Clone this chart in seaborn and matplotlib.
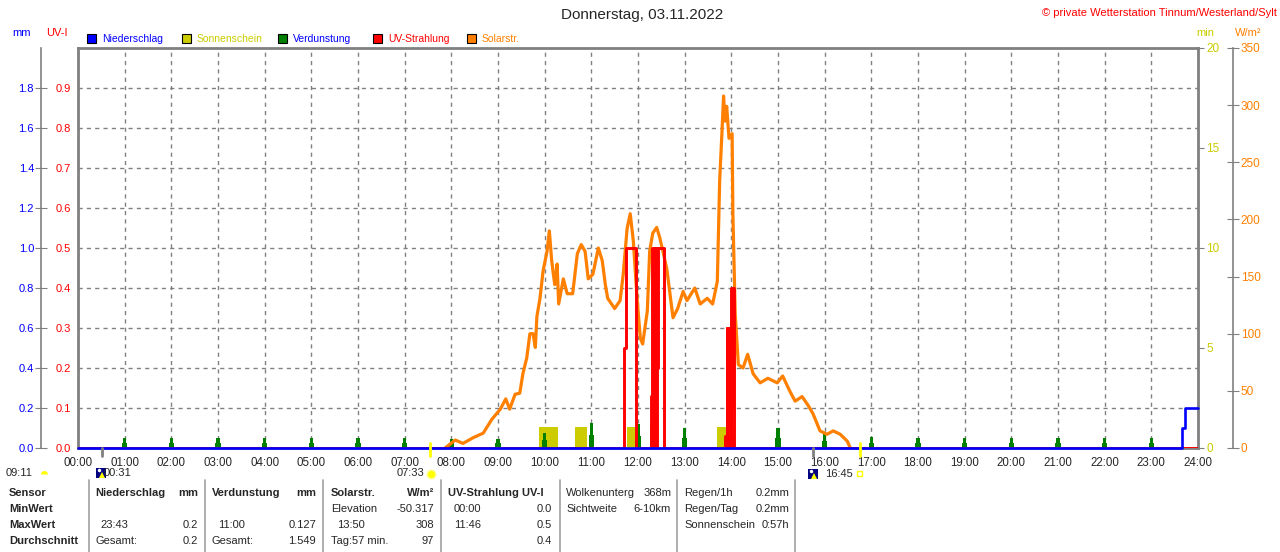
import numpy as np
import matplotlib
matplotlib.use('Agg')
import matplotlib.pyplot as plt
import matplotlib.transforms as mtransforms
from matplotlib.patches import Rectangle
from matplotlib.lines import Line2D
import seaborn as sns

# ---- data ----
title = 'Donnerstag, 03.11.2022'

# solar radiation W/m2 (minutes of the day)
solar_min = [472, 485, 495, 508, 521, 532, 543, 550, 555, 562, 568, 572, 577, 581, 585, 588,
             590, 594, 598, 603, 606, 609, 611, 613, 616, 618, 624, 629, 636, 642, 647, 652,
             656, 662, 669, 674, 678, 681, 690, 697, 701, 706, 710, 714, 719, 723, 726, 732,
             735, 739, 744, 748, 757, 765, 771, 778, 783, 793, 800, 809, 816, 822, 825, 828,
             830, 832, 834, 837, 841, 842, 845, 849, 855, 861, 868, 877, 887, 899, 906, 915,
             922, 931, 939, 945, 954, 963, 971, 980, 989, 993]
solar_val = [0, 7, 4, 9, 13, 25, 34, 43, 34, 47, 48, 65, 79, 100, 100, 88,
             115, 131, 155, 172, 190, 164, 153, 143, 161, 126, 148, 135, 135, 170, 178, 172,
             148, 152, 175, 164, 143, 131, 122, 129, 152, 192, 205, 181, 129, 96, 91, 120,
             172, 188, 193, 184, 157, 114, 122, 137, 129, 140, 126, 131, 126, 146, 234, 277,
             308, 286, 299, 271, 275, 205, 117, 73, 70, 82, 65, 57, 61, 57, 63, 50,
             41, 45, 37, 30, 15, 12, 15, 12, 6, 0]

# UV index (step values, minutes)
uv_min = [0, 702, 704, 717, 718, 737, 738, 739, 740, 741, 742, 743, 744, 745, 746, 753, 754,
          832, 834, 835, 836, 837, 838, 839, 840, 841, 842, 843, 1440]
uv_val = [0.0, 0.25, 0.5, 0.3, 0.0, 0.13, 0.5, 0.0, 0.5, 0.1, 0.5, 0.0, 0.5, 0.2, 0.5, 0.2, 0.0,
          0.03, 0.3, 0.0, 0.3, 0.05, 0.3, 0.0, 0.4, 0.1, 0.4, 0.0, 0.0]

# sunshine minutes (bars: start, end in minutes)
sun_start = [593, 639, 706, 735, 822]
sun_end = [617, 654, 717, 747, 845]
sun_val = [1.05, 1.05, 1.05, 1.05, 1.05]

# evaporation mm (hourly)
evap_hour = [1, 2, 3, 4, 5, 6, 7, 8, 9, 10, 11, 12, 13, 14, 15, 16, 17, 18, 19, 20, 21, 22, 23]
evap_val = [0.05, 0.05, 0.05, 0.05, 0.05, 0.05, 0.05, 0.047, 0.047, 0.077, 0.127, 0.12,
            0.1, 0.12, 0.1, 0.075, 0.055, 0.05, 0.05, 0.05, 0.05, 0.05, 0.05]

# precipitation mm (step values, minutes)
rain_min = [0, 1420, 1423, 1440]
rain_val = [0.0, 0.1, 0.2, 0.2]

hour_labels = ['%02d:00' % h for h in range(25)]
uv_ticks = [0.0, 0.1, 0.2, 0.3, 0.4, 0.5, 0.6, 0.7, 0.8, 0.9]
mm_ticks = [0.0, 0.2, 0.4, 0.6, 0.8, 1.0, 1.2, 1.4, 1.6, 1.8]
min_ticks = [0, 5, 10, 15, 20]
w_ticks = [0, 50, 100, 150, 200, 250, 300, 350]

sunrise, sunset = '07:33', '16:45'
moon_marks = ['00:31', '15:45']

table = [
    # (x, y, text, ha, bold)
    (9, 493, 'Sensor', 'left', True), (9, 509, 'MinWert', 'left', True),
    (9, 525, 'MaxWert', 'left', True), (9, 541, 'Durchschnitt', 'left', True),
    (95, 493, 'Niederschlag', 'left', True), (198, 493, 'mm', 'right', True),
    (100, 525, '23:43', 'left', False), (198, 525, '0.2', 'right', False),
    (95, 541, 'Gesamt:', 'left', False), (198, 541, '0.2', 'right', False),
    (212, 493, 'Verdunstung', 'left', True), (316, 493, 'mm', 'right', True),
    (218, 525, '11:00', 'left', False), (316, 525, '0.127', 'right', False),
    (212, 541, 'Gesamt:', 'left', False), (316, 541, '1.549', 'right', False),
    (331, 493, 'Solarstr.', 'left', True), (434, 493, 'W/m²', 'right', True),
    (331, 509, 'Elevation', 'left', False), (434, 509, '-50.317', 'right', False),
    (337, 525, '13:50', 'left', False), (434, 525, '308', 'right', False),
    (331, 541, 'Tag:57 min.', 'left', False), (434, 541, '97', 'right', False),
    (448, 493, 'UV-Strahlung UV-I', 'left', True),
    (454, 509, '00:00', 'left', False), (552, 509, '0.0', 'right', False),
    (454, 525, '11:46', 'left', False), (552, 525, '0.5', 'right', False),
    (552, 541, '0.4', 'right', False),
    (566, 493, 'Wolkenunterg', 'left', False), (672, 493, '368m', 'right', False),
    (566, 509, 'Sichtweite', 'left', False), (671, 509, '6-10km', 'right', False),
    (684, 493, 'Regen/1h', 'left', False), (789, 493, '0.2mm', 'right', False),
    (684, 509, 'Regen/Tag', 'left', False), (789, 509, '0.2mm', 'right', False),
    (684, 525, 'Sonnenschein', 'left', False), (789, 525, '0:57h', 'right', False),
]
table_seps = [89, 205, 323, 441, 560, 677, 795]

# ---- colours ----
c_rain = '#0000FF'
c_sun = '#CCCC00'
c_evap = '#008000'
c_uv = '#FF0000'
c_solar = '#FF8000'
c_grey = '#808080'

sns.set_style('white')
plt.rcParams['font.family'] = ['Liberation Sans', 'DejaVu Sans']
plt.rcParams['font.size'] = 8

W, H = 1280, 552
PT = 0.72  # points per pixel at dpi 100


def fx(x):
    return x / W


def fy(y):
    return 1 - y / H


def tohours(t):
    h, m = t.split(':')
    return int(h) + int(m) / 60


fig = plt.figure(figsize=(12.8, 5.52), dpi=100)
ax = fig.add_axes([fx(78), 104 / H, 1120 / W, 400 / H])
ax.set_zorder(1)
ax.set_xlim(0, 24)
ax.set_ylim(0, 1.0)
ax.set_xticks(range(25))
ax.set_xticklabels(hour_labels)
ax.set_yticks(uv_ticks)
ax.set_yticklabels(['%.1f' % v for v in uv_ticks])
ax.tick_params(axis='y', length=0, pad=5, labelcolor=c_uv, labelsize=8)
ax.tick_params(axis='x', length=3, color=c_grey, pad=3.5, labelsize=8.3)
ax.grid(True, color=c_grey, linestyle=(0, (3, 3)), linewidth=1)
for s in ['left', 'top', 'right', 'bottom']:
    ax.spines[s].set_color(c_grey)
    ax.spines[s].set_linewidth(2)

# sunshine (min)
ax_min = ax.twinx()
ax_min.set_zorder(2)
ax_min.set_ylim(0, 20)
ax_min.bar(np.array(sun_start) / 60, sun_val, width=(np.array(sun_end) - np.array(sun_start)) / 60,
           align='edge', color=c_sun, linewidth=0)
ax_min.set_yticks(min_ticks)
ax_min.tick_params(axis='y', length=4, color=c_grey, pad=2, labelcolor=c_sun, labelsize=8.5)

# evaporation (mm axis, left, outward)
ax_mm = ax.twinx()
ax_mm.set_zorder(3)
ax_mm.set_ylim(0, 2.0)
ax_mm.bar(evap_hour, np.array(evap_val) * 0.5, width=0.11, color=c_evap, linewidth=0)
ax_mm.bar(evap_hour, evap_val, width=0.065, color=c_evap, linewidth=0)
ax_mm.yaxis.set_ticks_position('left')
ax_mm.yaxis.set_label_position('left')
ax_mm.spines['left'].set_visible(True)
ax_mm.spines['left'].set_position(('outward', 37 * PT))
ax_mm.spines['left'].set_color(c_grey)
ax_mm.spines['left'].set_linewidth(1.2)
ax_mm.set_yticks(mm_ticks)
ax_mm.set_yticklabels(['%.1f' % v for v in mm_ticks])
ax_mm.tick_params(axis='y', direction='inout', length=8, color=c_grey, pad=1,
                  labelcolor=c_rain, labelsize=8)

# solar radiation (W/m2 axis, right, outward)
ax_w = ax.twinx()
ax_w.set_zorder(4)
ax_w.set_ylim(0, 350)
sns.lineplot(x=np.array(solar_min) / 60, y=solar_val, ax=ax_w, color=c_solar,
             linewidth=2.3, estimator=None, legend=False)
ax_w.spines['right'].set_visible(True)
ax_w.spines['right'].set_position(('outward', 35 * PT))
ax_w.spines['right'].set_color(c_grey)
ax_w.spines['right'].set_linewidth(1.2)
ax_w.set_yticks(w_ticks)
ax_w.tick_params(axis='y', direction='inout', length=9, color=c_grey, pad=1,
                 labelcolor=c_solar, labelsize=8.5)

# UV index
ax_uv = ax.twinx()
ax_uv.set_zorder(5)
ax_uv.set_ylim(0, 1.0)
sns.lineplot(x=np.array(uv_min) / 60, y=uv_val, ax=ax_uv, color=c_uv, linewidth=2.1,
             drawstyle='steps-post', estimator=None, legend=False)
ax_uv.set_yticks([])

# precipitation
ax_rain = ax.twinx()
ax_rain.set_zorder(6)
ax_rain.set_ylim(0, 2.0)
sns.lineplot(x=np.array(rain_min) / 60, y=rain_val, ax=ax_rain, color=c_rain, linewidth=1.9,
             drawstyle='steps-post', estimator=None, legend=False, clip_on=False)
ax_rain.set_yticks([])

for a in [ax_min, ax_mm, ax_w, ax_uv, ax_rain]:
    a.set_xlim(0, 24)
    a.set_xlabel('')
    a.set_ylabel('')
    for s in ['top', 'bottom']:
        a.spines[s].set_visible(False)
    if a is not ax_mm:
        a.spines['left'].set_visible(False)
    if a is not ax_w:
        a.spines['right'].set_visible(False)

# sun / moon marks on the time axis
trans = mtransforms.blended_transform_factory(ax_rain.transData, ax_rain.transAxes)
for t in [sunrise, sunset]:
    ax_rain.plot([tohours(t)] * 2, [-0.02, 0.012], color='#FFFF00', linewidth=2,
                 transform=trans, clip_on=False)
for t in moon_marks:
    ax_rain.plot([tohours(t)] * 2, [-0.02, 0.0], color=c_grey, linewidth=2,
                 transform=trans, clip_on=False)

# ---- texts around the chart ----
fig.text(fx(642), fy(15), title, ha='center', va='center', fontsize=11)
fig.text(fx(1277), fy(13), '© private Wetterstation Tinnum/Westerland/Sylt', ha='right',
         va='center', color=c_uv, fontsize=8)
fig.text(fx(22), fy(33), 'mm', ha='center', va='center', color=c_rain, fontsize=8)
fig.text(fx(57), fy(33), 'UV-I', ha='center', va='center', color=c_uv, fontsize=8)
fig.text(fx(1205), fy(33), 'min', ha='center', va='center', color=c_sun, fontsize=8)
fig.text(fx(1248), fy(33), 'W/m²', ha='center', va='center', color=c_solar, fontsize=8)

legend_items = [(87, 'Niederschlag', c_rain, c_rain), (182, 'Sonnenschein', c_sun, c_sun),
                (278, 'Verdunstung', c_evap, c_rain), (373, 'UV-Strahlung', c_uv, c_uv),
                (467, 'Solarstr.', c_solar, c_solar)]
for x0, name, col, tcol in legend_items:
    fig.add_artist(Rectangle((fx(x0), fy(43)), 9 / W, 9 / H, facecolor=col, edgecolor='black',
                             linewidth=0.8, transform=fig.transFigure))
    fig.text(fx(x0 + 15), fy(38.5), name, ha='left', va='center', color=tcol, fontsize=7.5)

# sun / moon time labels below axis
fig.text(fx(6), fy(473), '09:11', ha='left', va='center', fontsize=8)
fig.add_artist(Line2D([fx(44)], [fy(474)], marker='o', markersize=5, color='#FFFF00',
                      fillstyle='top', markeredgewidth=0, transform=fig.transFigure))
fig.text(fx(104), fy(473), '00:31', ha='left', va='center', fontsize=8)
fig.text(fx(424), fy(473), '07:33', ha='right', va='center', fontsize=8)
fig.add_artist(Line2D([fx(431)], [fy(474)], marker='o', markersize=6, color='#FFFF00',
                      markeredgecolor='#FFFF80', transform=fig.transFigure))
fig.text(fx(825), fy(474), '16:45', ha='left', va='center', fontsize=8)
fig.add_artist(Rectangle((fx(857), fy(476)), 5 / W, 5 / H, facecolor='none',
                         edgecolor='#FFFF00', linewidth=1, transform=fig.transFigure))
for x0, y0 in [(96, 478), (808, 479)]:
    fig.add_artist(Rectangle((fx(x0), fy(y0)), 10 / W, 10 / H, facecolor='#000080',
                             edgecolor='none', transform=fig.transFigure))
    fig.add_artist(Line2D([fx(x0 + 6)], [fy(y0 - 3)], marker='^', markersize=4,
                          color='#FFFF00', markeredgewidth=0, transform=fig.transFigure))
    fig.add_artist(Line2D([fx(x0 + 2.5)], [fy(y0 - 8)], marker='o', markersize=2.5,
                          color='white', markeredgewidth=0, transform=fig.transFigure))

# ---- bottom table ----
for x, y, s, ha, bold in table:
    fig.text(fx(x), fy(y), s, ha=ha, va='center', fontsize=8,
             fontweight='bold' if bold else 'normal')
for x in table_seps:
    fig.add_artist(Line2D([fx(x), fx(x)], [fy(480), fy(552)], color='#A0A0A0',
                          linewidth=1.2, transform=fig.transFigure))

fig.savefig('out.png', dpi=100)
